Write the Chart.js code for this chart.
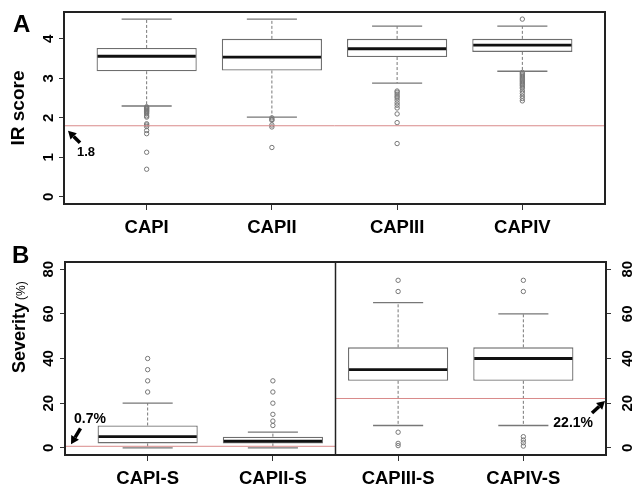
<!DOCTYPE html>
<html>
<head>
<meta charset="utf-8">
<script src="https://cdn.jsdelivr.net/npm/chart.js@4.4.0/dist/chart.umd.min.js"></script>
<style>
  body { margin: 0; background: #fff; }
  canvas { display: block; }
</style>
</head>
<body>
<canvas id="chartA" width="632" height="240"></canvas>
<canvas id="chartB" width="632" height="251"></canvas>
<script>
// Panel A - IR score
const irCats = ['CAPI', 'CAPII', 'CAPIII', 'CAPIV'];
const irLow = [2.30, 2.02, 2.88, 3.18];
const irQ1 = [3.18, 3.20, 3.54, 3.67];
const irMed = [3.56, 3.54, 3.75, 3.84];
const irQ3 = [3.77, 4.00, 4.00, 4.00];
const irHigh = [4.50, 4.50, 4.32, 4.32];
const irOutliers = [
    [2.28, 2.26, 2.24, 2.22, 2.20, 2.18, 2.16, 2.13, 2.10, 2.05, 2.02, 1.85, 1.82, 1.78, 1.68, 1.60, 1.13, 0.70],
    [2.00, 1.96, 1.94, 1.82, 1.77, 1.25],
    [2.68, 2.65, 2.60, 2.55, 2.51, 2.45, 2.38, 2.32, 2.25, 2.10, 1.88, 1.35],
    [4.50, 3.15, 3.12, 3.09, 3.06, 3.03, 3.00, 2.97, 2.94, 2.91, 2.88, 2.85, 2.82, 2.78, 2.75, 2.68, 2.62, 2.55, 2.49, 2.43]
];
const irTicks = [0, 1, 2, 3, 4];
const irCut = 1.8;

// Panel B - severity
const sevCats = ['CAPI-S', 'CAPII-S', 'CAPIII-S', 'CAPIV-S'];
const sevLow = [0, 0, 10, 10];
const sevQ1 = [2, 2, 30, 30];
const sevMed = [5, 3, 35, 40];
const sevQ3 = [10, 5, 45, 45];
const sevHigh = [20, 7, 65, 60];
const sevOutliers = [
    [25, 30, 35, 40],
    [10, 12, 15, 20, 25, 30],
    [70, 75, 7, 2, 1],
    [70, 75, 5, 3.5, 2.3, 0.8]
];
const sevTicks = [0, 20, 40, 60, 80];
const sevCuts = [0.7, 22.1];   // left pair, right pair

const FONT = "'Liberation Sans', Arial, sans-serif";
Chart.defaults.font.family = FONT;
Chart.defaults.color = '#000';

function boxData(q1, q3) {
    return q1.map((v, i) => ({ x: i + 1, y: [v, q3[i]] }));
}

function outlierData(list) {
    const pts = [];
    list.forEach((vals, i) => vals.forEach(v => pts.push({ x: i + 1, y: v })));
    return pts;
}

function drawArrow(ctx, x1, y1, x2, y2) {
    const ang = Math.atan2(y2 - y1, x2 - x1);
    const hl = 8, hw = 4.5;
    const bx = x2 - hl * Math.cos(ang), by = y2 - hl * Math.sin(ang);
    ctx.strokeStyle = '#000';
    ctx.fillStyle = '#000';
    ctx.lineWidth = 3.5;
    ctx.beginPath();
    ctx.moveTo(x1, y1);
    ctx.lineTo(bx, by);
    ctx.stroke();
    ctx.beginPath();
    ctx.moveTo(x2, y2);
    ctx.lineTo(bx + hw * Math.sin(ang), by - hw * Math.cos(ang));
    ctx.lineTo(bx - hw * Math.sin(ang), by + hw * Math.cos(ang));
    ctx.closePath();
    ctx.fill();
}

// whiskers, caps and medians, placed from the bar elements and the y scale
function boxPlugin(low, med, high, q1, q3) {
    return {
        id: 'boxParts',
        afterDatasetsDraw(chart) {
            const { ctx, scales: { y } } = chart;
            const bars = chart.getDatasetMeta(0).data;
            ctx.save();
            bars.forEach((bar, i) => {
                const cx = bar.x, w = bar.width;
                ctx.strokeStyle = '#777';
                ctx.lineWidth = 1;
                ctx.setLineDash([3, 2]);
                ctx.beginPath();
                ctx.moveTo(cx, y.getPixelForValue(q3[i]));
                ctx.lineTo(cx, y.getPixelForValue(high[i]));
                ctx.moveTo(cx, y.getPixelForValue(q1[i]));
                ctx.lineTo(cx, y.getPixelForValue(low[i]));
                ctx.stroke();
                ctx.setLineDash([]);
                ctx.lineWidth = 1.3;
                ctx.beginPath();
                [high[i], low[i]].forEach(v => {
                    const py = y.getPixelForValue(v);
                    ctx.moveTo(cx - w / 4, py);
                    ctx.lineTo(cx + w / 4, py);
                });
                ctx.stroke();
                ctx.strokeStyle = '#111';
                ctx.lineWidth = 2.8;
                ctx.beginPath();
                const pm = y.getPixelForValue(med[i]);
                ctx.moveTo(cx - w / 2 + 1, pm);
                ctx.lineTo(cx + w / 2 - 1, pm);
                ctx.stroke();
            });
            ctx.restore();
        }
    };
}

function yScale(ticks, min, max, pos, pad, width) {
    return {
        type: 'linear', position: pos, min: min, max: max,
        afterBuildTicks: s => { s.ticks = ticks.map(v => ({ value: v })); },
        afterFit: s => { s.width = width; s.paddingTop = 0; s.paddingBottom = 0; },
        border: { display: false },
        grid: { drawOnChartArea: false, tickLength: 5, color: '#333' },
        ticks: {
            autoSkip: false, minRotation: 90, maxRotation: 90, crossAlign: 'center',
            padding: pad, font: { size: 15, weight: 'bold' }, color: '#000'
        }
    };
}

function xScale(cats) {
    return {
        type: 'linear', min: 0.34, max: 4.66, offset: false,
        afterBuildTicks: s => { s.ticks = cats.map((c, i) => ({ value: i + 1 })); },
        afterFit: s => { s.height = 36; s.paddingLeft = 0; s.paddingRight = 0; },
        border: { display: false },
        grid: { drawOnChartArea: false, offset: false, tickLength: 6, color: '#333' },
        ticks: {
            autoSkip: false, maxRotation: 0, padding: 7,
            font: { size: 18.5, weight: 'bold' }, color: '#000',
            callback: v => cats[v - 1]
        }
    };
}

function datasets(q1, q3, outliers) {
    return [
        {
            type: 'bar', data: boxData(q1, q3),
            backgroundColor: '#fff', borderColor: '#6e6e6e', borderWidth: 1.3,
            borderSkipped: false, barPercentage: 1, categoryPercentage: 0.8
        },
        {
            type: 'scatter', data: outlierData(outliers),
            pointRadius: 2.2, pointBackgroundColor: 'rgba(0,0,0,0)',
            pointBorderColor: '#777', pointBorderWidth: 1, showLine: false
        }
    ];
}

const baseOptions = {
    responsive: false,
    animation: false,
    events: [],
    plugins: { legend: { display: false }, tooltip: { enabled: false } }
};

// Panel A
new Chart(document.getElementById('chartA'), {
    type: 'bar',
    data: { datasets: datasets(irQ1, irQ3, irOutliers) },
    options: {
        ...baseOptions,
        layout: { padding: { left: 0, right: 27, top: 12, bottom: 0 } },
        scales: {
            x: xScale(irCats),
            y: Object.assign(yScale(irTicks, -0.18, 4.68, 'left', 6.2, 64), {
                title: { display: true, text: 'IR score', font: { size: 19, weight: 'bold' }, padding: { top: 7, bottom: 0 }, color: '#000' }
            })
        }
    },
    plugins: [boxPlugin(irLow, irMed, irHigh, irQ1, irQ3), {
        id: 'panelA',
        afterDraw(chart) {
            const { ctx, chartArea: a, scales: { y } } = chart;
            ctx.save();
            const yc = y.getPixelForValue(irCut);
            ctx.strokeStyle = '#d98a8a';
            ctx.lineWidth = 1;
            ctx.beginPath();
            ctx.moveTo(a.left, yc);
            ctx.lineTo(a.right, yc);
            ctx.stroke();
            ctx.strokeStyle = '#222';
            ctx.lineWidth = 2;
            ctx.strokeRect(a.left, a.top, a.width, a.height);
            drawArrow(ctx, a.left + 16, yc + 17, a.left + 4, yc + 5);
            ctx.fillStyle = '#000';
            ctx.font = 'bold 13px ' + FONT;
            ctx.textAlign = 'left';
            ctx.textBaseline = 'alphabetic';
            ctx.fillText(String(irCut), a.left + 13, yc + 30);
            ctx.font = 'bold 24px ' + FONT;
            ctx.fillText('A', 13, 32);
            ctx.restore();
        }
    }]
});

// Panel B
new Chart(document.getElementById('chartB'), {
    type: 'bar',
    data: { datasets: datasets(sevQ1, sevQ3, sevOutliers) },
    options: {
        ...baseOptions,
        layout: { padding: { left: 0, right: 0, top: 22, bottom: 0 } },
        scales: {
            x: xScale(sevCats),
            y: yScale(sevTicks, -3.2, 83.2, 'left', 2.6, 65),
            y2: yScale(sevTicks, -3.2, 83.2, 'right', 8.5, 26)
        }
    },
    plugins: [boxPlugin(sevLow, sevMed, sevHigh, sevQ1, sevQ3), {
        id: 'panelB',
        afterDraw(chart) {
            const { ctx, chartArea: a, scales: { x, y } } = chart;
            ctx.save();
            const mid = (x.getPixelForValue(2) + x.getPixelForValue(3)) / 2;
            const y0 = y.getPixelForValue(sevCuts[0]);
            const y1 = y.getPixelForValue(sevCuts[1]);
            ctx.strokeStyle = '#d98a8a';
            ctx.lineWidth = 1;
            ctx.beginPath();
            ctx.moveTo(a.left, y0);
            ctx.lineTo(mid, y0);
            ctx.moveTo(mid, y1);
            ctx.lineTo(a.right, y1);
            ctx.stroke();
            ctx.strokeStyle = '#222';
            ctx.lineWidth = 1.5;
            ctx.beginPath();
            ctx.moveTo(mid, a.top);
            ctx.lineTo(mid, a.bottom);
            ctx.stroke();
            ctx.lineWidth = 2;
            ctx.strokeRect(a.left, a.top, a.width, a.height);

            drawArrow(ctx, a.left + 15.5, y0 - 18, a.left + 6, y0 - 2);
            drawArrow(ctx, a.right - 14, y1 + 14.5, a.right - 1, y1 + 2.5);
            ctx.fillStyle = '#000';
            ctx.font = 'bold 14px ' + FONT;
            ctx.textBaseline = 'alphabetic';
            ctx.textAlign = 'left';
            ctx.fillText(sevCuts[0] + '%', a.left + 9, y0 - 23);
            ctx.textAlign = 'right';
            ctx.fillText(sevCuts[1] + '%', a.right - 13, y1 + 28.5);

            ctx.textAlign = 'left';
            ctx.font = 'bold 24px ' + FONT;
            ctx.fillText('B', 12, 23);

            // y title: "Severity" bold with a smaller "(%)"
            ctx.translate(25, 133);
            ctx.rotate(-Math.PI / 2);
            ctx.font = 'bold 18px ' + FONT;
            ctx.fillText('Severity', 0, 0);
            const w = ctx.measureText('Severity').width;
            ctx.font = '12px ' + FONT;
            ctx.fillText('(%)', w + 3, 0);
            ctx.restore();
        }
    }]
});
</script>
</body>
</html>
